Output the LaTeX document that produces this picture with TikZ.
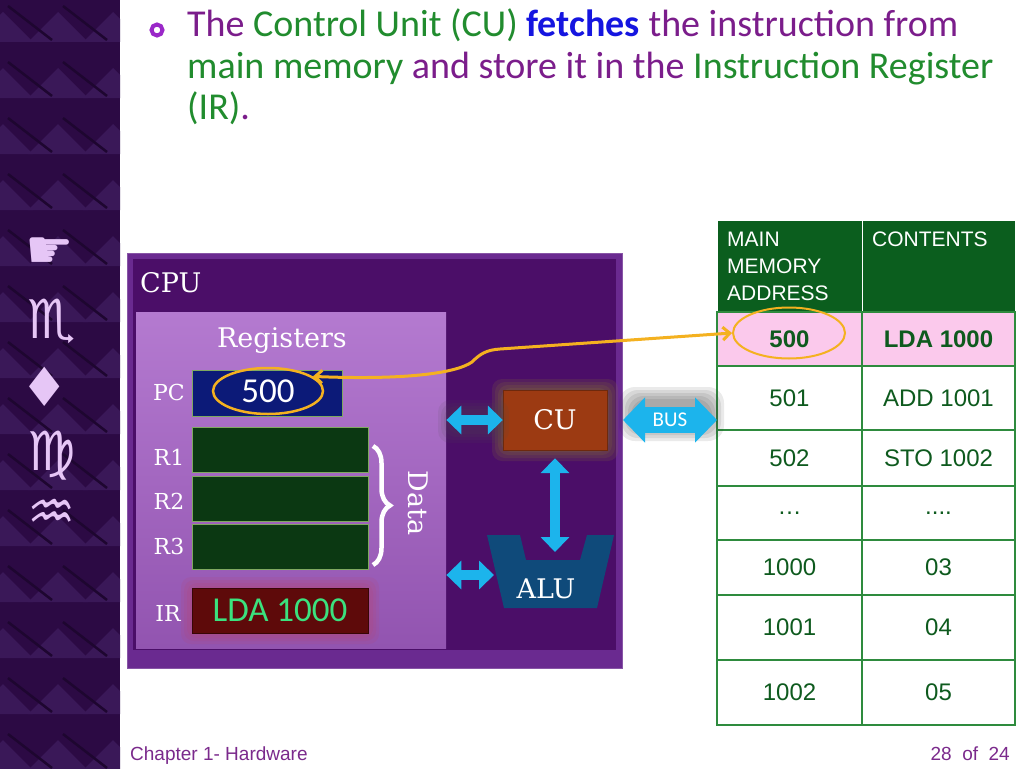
\documentclass[tikz,border=0pt]{standalone}
\usepackage{fontspec}
\usepackage{tikz}
\usetikzlibrary{arrows.meta,positioning,shapes.geometric,decorations.pathreplacing}
\setmainfont{Liberation Sans}
\newfontfamily\slidefont{Carlito}
\newfontfamily\cpufont{DejaVu Serif}
\newfontfamily\symfont{DejaVu Sans}
\definecolor{stripPurple}{HTML}{2C0A44}
\definecolor{stripTri}{HTML}{3A1858}
\definecolor{stripDark}{HTML}{1E0630}
\definecolor{symLilac}{HTML}{E6C6F6}
\definecolor{bulletPurple}{HTML}{9A28C8}
\definecolor{txtGreen}{HTML}{218C2E}
\definecolor{txtPurple}{HTML}{7B1D8B}
\definecolor{txtBlue}{HTML}{1515E0}
\definecolor{cpuOuter}{HTML}{6A2A90}
\definecolor{cpuInner}{HTML}{4B0E68}
\definecolor{regTop}{HTML}{B47AD0}
\definecolor{regBot}{HTML}{9254B0}
\definecolor{pcNavy}{HTML}{0C1A78}
\definecolor{regGreen}{HTML}{0B3812}
\definecolor{regEdge}{HTML}{7FA860}
\definecolor{irRed}{HTML}{5E0A0A}
\definecolor{irGlow}{HTML}{C04060}
\definecolor{irText}{HTML}{3BE27E}
\definecolor{cuBrown}{HTML}{9C3A12}
\definecolor{cuGlow}{HTML}{8A7A30}
\definecolor{aluBlue}{HTML}{0F4A7A}
\definecolor{busCyan}{HTML}{1CB4EC}
\definecolor{linkGold}{HTML}{F4B120}
\definecolor{tblHead}{HTML}{0B5E1E}
\definecolor{tblEdge}{HTML}{2E8B3E}
\definecolor{tblText}{HTML}{0E5A1E}
\definecolor{tblPink}{HTML}{FBC9EC}
\definecolor{footPurple}{HTML}{7B2A8C}

\begin{document}
\begin{tikzpicture}[
    x=1pt, y=-1pt,
    sym/.style={text=symLilac, inner sep=0pt, font=\symfont\fontsize{54}{54}\selectfont},
    title/.style={anchor=base west, inner sep=0pt, font=\slidefont\fontsize{38}{41}\selectfont},
    cpulbl/.style={text=white, inner sep=0pt, font=\cpufont\fontsize{27}{27}\selectfont},
    reglbl/.style={text=white, inner sep=0pt, font=\cpufont\fontsize{22}{22}\selectfont},
    regbox/.style={rectangle, draw=regEdge, line width=1pt, inner sep=0pt},
    cell/.style={rectangle, draw=tblEdge, line width=1.5pt, anchor=north west,
                 inner sep=0pt, outer sep=0pt, text=tblText, font=\fontsize{24}{24}\selectfont},
    headcell/.style={cell, fill=tblHead, draw=white, line width=1pt},
    headtxt/.style={anchor=north west, inner sep=0pt, align=left, text=white,
                    font=\fontsize{21}{27}\selectfont},
    blockarr/.style={{Triangle[length=15pt,width=28pt]}-{Triangle[length=15pt,width=28pt]},
                     line width=10pt, draw=busCyan},
    busarr/.style={{Triangle[length=22pt,width=44pt]}-{Triangle[length=22pt,width=44pt]},
                   line width=26pt, draw=busCyan},
    linkarr/.style={{Straight Barb[length=7pt,width=13pt]}-{Straight Barb[length=7pt,width=13pt]},
                    line width=3pt, draw=linkGold},
    ring/.style={ellipse, draw=linkGold, line width=2.5pt, inner sep=0pt}
  ]
    \useasboundingbox (0,0) rectangle (1024,768);
    \fill[white] (0,0) rectangle (1024,768);

    % side strip
    \fill[stripPurple] (0,0) rectangle (120,768);
    \begin{scope}
      \clip (0,0) rectangle (120,768);
      \foreach \r in {0,...,14}{
        \foreach \c in {-1,0,1}{
          \fill[stripTri] (\c*55+28,\r*56+42) -- ++(30,-30) -- ++(30,30) -- cycle;
          \draw[stripDark, line width=2.5pt] (\c*55+8,\r*56+6) -- ++(44,34);
        }
      }
    \end{scope}
    \node[sym] (hand)   at (50,253) {☛};
    \node[sym] (scorp)  at (52,321) {♏};
    \node[sym] (diam)   at (45,387) {♦};
    \node[sym] (virgo)  at (52,456) {♍};
    \node[sym] (aqua)   at (52,515) {♒};

    % title text
    \node[circle, draw=bulletPurple, line width=4pt, inner sep=0pt, minimum size=11pt] (bullet) at (157,30) {};
    \node[title] (line1) at (187,37) {\textcolor{txtPurple}{The} \textcolor{txtGreen}{Control Unit (CU)} \textcolor{txtBlue}{\bfseries fetches} \textcolor{txtPurple}{the instruction from}};
    \node[title] (line2) at (187,78) {\color{txtGreen}main memory \textcolor{txtPurple}{and store it in the} Instruction Register};
    \node[title] (line3) at (187,119) {\color{txtGreen}(IR)\textcolor{txtPurple}{.}};

    % CPU
    \node[rectangle, fill=cpuOuter, draw=cpuOuter!80!white, line width=1pt, anchor=north west,
          minimum width=495pt, minimum height=415pt] (cpu) at (127,253) {};
    \fill[cpuInner] (133,259) rectangle (616,650);
    \node[cpulbl, anchor=base west] (cputxt) at (140,292) {CPU};

    \node[rectangle, top color=regTop, bottom color=regBot, anchor=north west,
          minimum width=310pt, minimum height=336pt] (regs) at (136,312) {};
    \node[cpulbl] (regtitle) at (282,341) {Registers};

    \node[regbox, fill=pcNavy, minimum width=150pt, minimum height=46pt] (pc) at (267,393) {};
    \node[ring, minimum width=110pt, minimum height=46pt, text=white,
          font=\slidefont\fontsize{35}{35}\selectfont] (pcval) at (268,391) {500};

    \node[regbox, fill=regGreen, minimum width=176pt, minimum height=45pt] (r1) at (280,449.5) {};
    \node[regbox, fill=regGreen, minimum width=176pt, minimum height=45pt, below=3pt of r1] (r2) {};
    \node[regbox, fill=regGreen, minimum width=176pt, minimum height=45pt, below=2pt of r2] (r3) {};

    \node[reglbl] (lblpc) at (169,392) {PC};
    \node[reglbl] (lblr1) at (169,457) {R1};
    \node[reglbl] (lblr2) at (169,501) {R2};
    \node[reglbl] (lblr3) at (169,546) {R3};
    \node[reglbl] (lblir) at (168,613) {IR};

    \draw[white, line width=4.5pt, decorate, decoration={brace, amplitude=17pt}] (373,446) -- (373,565);
    \node[cpulbl, rotate=-90] (datatxt) at (418,503) {Data};

    \foreach \g in {2,5,8,11}
      \fill[irGlow, opacity=.12, rounded corners=10pt] (192-\g,588-\g) rectangle (368+\g,633+\g);
    \node[regbox, fill=irRed, draw=irRed!60!black, minimum width=176pt, minimum height=45pt,
          text=irText, font=\slidefont\fontsize{35}{35}\selectfont] (ir) at (280,610.5) {LDA 1000};

    % control unit and ALU
    \foreach \g in {2,5,8,11}
      \fill[cuGlow, opacity=.16, rounded corners=10pt] (503-\g,390-\g) rectangle (607+\g,450+\g);
    \node[rectangle, fill=cuBrown, draw=cuBrown!70!black, minimum width=104pt, minimum height=60pt, cpulbl] (cu) at (555,420) {CU};

    \fill[aluBlue] (487,535) -- (520,535) -- (526,560) -- (580,560) -- (587,535) -- (614,535)
                   -- (597,608) -- (504,608) -- cycle;
    \node[cpulbl] (alu) at (546,589) {ALU};
    \coordinate (alutop) at (555,552);
    \coordinate (aluwest) at (494,575);

    \foreach \g in {2,5,8,11}
      \fill[black!70, opacity=.1, rounded corners=12pt] (449-\g,411-\g) rectangle (498+\g,432+\g);
    \draw[blockarr] (regs.east |- cu.west) -- (cu.west);
    \draw[blockarr] ([yshift=-8pt]cu.south) -- (alutop);
    \draw[blockarr] (regs.east |- aluwest) -- (aluwest);

    % memory table
    \node[headcell, minimum width=145pt, minimum height=92pt] (hAddr) at (717,220) {};
    \node[headcell, minimum width=153pt, minimum height=92pt] (hCont) at (862,220) {};
    \node[headtxt] (hAddrTxt) at (727,232) {MAIN\\MEMORY\\ADDRESS};
    \node[headtxt] (hContTxt) at (872,232) {CONTENTS};

    \node[cell, fill=tblPink, minimum width=145pt, minimum height=54pt, font=\bfseries\fontsize{24}{24}\selectfont] (a500) at (717,312) {500};
    \node[cell, fill=tblPink, minimum width=153pt, minimum height=54pt, font=\bfseries\fontsize{24}{24}\selectfont] (c500) at (862,312) {LDA 1000};
    \foreach \nm/\yt/\h/\addr/\cont in {501/366/64/501/ADD 1001, 502/430/56/502/STO 1002,
        dots/486/54/…/.{}.{}.{}., 1000/540/55/1000/03, 1001/595/65/1001/04, 1002/660/65/1002/05}{
      \node[cell, minimum width=145pt, minimum height=\h pt] (a\nm) at (717,\yt) {\addr};
      \node[cell, minimum width=153pt, minimum height=\h pt] (c\nm) at (862,\yt) {\cont};
    }
    \node[ring, line width=2pt, minimum width=112pt, minimum height=51pt] (memell) at (789,333) {};

    % bus
    \foreach \g in {1,4,7,10,13}
      \fill[black!80, opacity=.1, rounded corners=16pt] (632-\g,400-\g) rectangle (711+\g,428+\g);
    \draw[busarr] (cpu.east |- cu) -- (a501.west |- cu)
      node[midway, text=white, font=\slidefont\fontsize{21}{21}\selectfont] (bustxt) {BUS};

    % fetch link
    \draw[linkarr] (pcval.18) .. controls (400,380) and (455,374) .. (472,362)
                   .. controls (480,354) and (486,350) .. (500,349) -- (memell.west);

    % footer
    \node[anchor=base west, inner sep=0pt, text=footPurple, font=\fontsize{19}{19}\selectfont] (chapter) at (130,760) {Chapter 1- Hardware};
    \node[anchor=base east, inner sep=0pt, text=footPurple, font=\fontsize{19}{19}\selectfont] (pageno) at (1010,760) {28\ \ of\ \ 24};
  \end{tikzpicture}
\end{document}
